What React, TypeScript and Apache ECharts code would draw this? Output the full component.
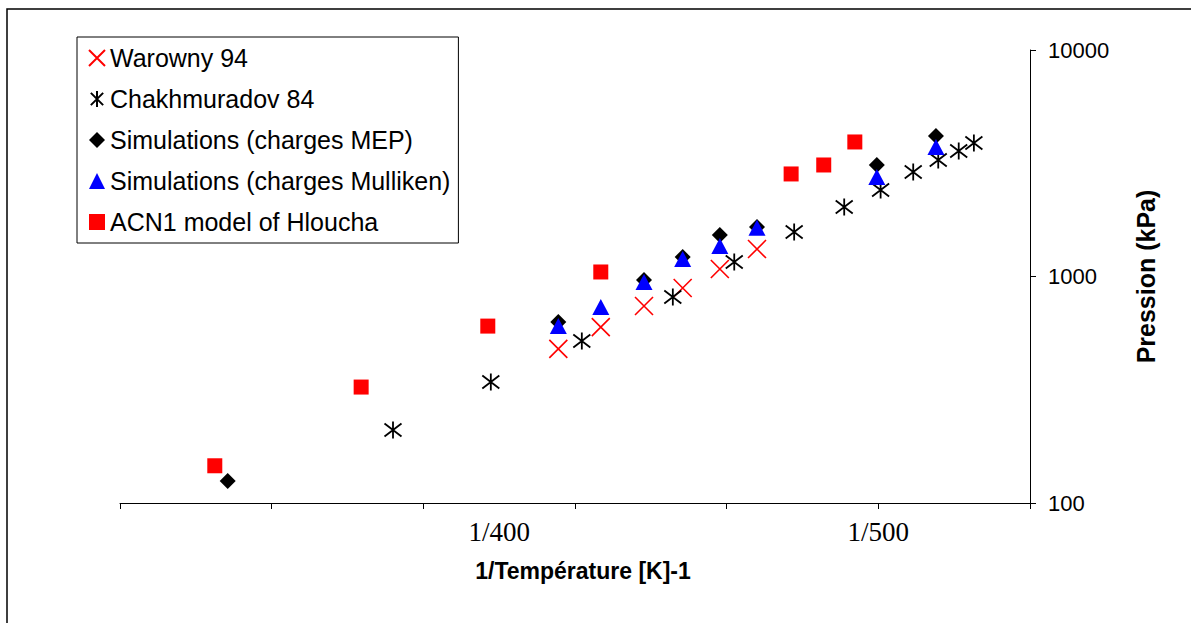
import React, { useEffect, useRef } from "react";
import * as echarts from "echarts";

// 1/T values (K^-1) and pressures (kPa)
const warownyX = [0.002422, 0.002366, 0.002309, 0.002258, 0.002209, 0.00216];
const warownyY = [479, 598, 741, 890, 1079, 1322];

const chakhX = [0.00264, 0.002511, 0.002391, 0.002271, 0.00219, 0.002111, 0.002045, 0.001997, 0.001954, 0.001921, 0.001894, 0.001874];
const chakhY = [210, 342, 519, 812, 1159, 1572, 2027, 2410, 2894, 3268, 3583, 3885];

const mepX = [0.002858, 0.002422, 0.002309, 0.002258, 0.002209, 0.00216, 0.002002, 0.001924];
const mepY = [125, 630, 965, 1219, 1526, 1654, 3107, 4171];

const mullikenX = [0.002422, 0.002366, 0.002309, 0.002258, 0.002209, 0.00216, 0.002002, 0.001924];
const mullikenY = [604, 733, 945, 1195, 1364, 1640, 2750, 3732];

const acn1X = [0.002875, 0.002682, 0.002515, 0.002366, 0.002115, 0.002072, 0.002031];
const acn1Y = [146, 325, 604, 1047, 2836, 3107, 3926];

const seriesNames = [
  "Warowny 94",
  "Chakhmuradov 84",
  "Simulations (charges MEP)",
  "Simulations (charges Mulliken)",
  "ACN1 model of Hloucha",
];

const xTickValues = [0.0018, 0.002, 0.0022, 0.0024, 0.0026, 0.0028, 0.003];
const xLabelValues = [0.0025, 0.002];
const xLabelTexts = ["1/400", "1/500"];

const zip = (xs: number[], ys: number[]) => xs.map((x, i) => [x, ys[i]]);

const X_PATH = "path://M0,0L10,10M10,0L0,10";
const STAR_PATH = "path://M0,0L10,10M10,0L0,10M5,-1.5L5,11.5";

export default function App() {
  const ref = useRef<HTMLDivElement>(null);
  useEffect(() => {
    if (!ref.current) return;
    const chart = echarts.init(ref.current, null, { renderer: "svg" });
    const sans = "Liberation Sans, Arial, sans-serif";
    const serif = "Liberation Serif, Times New Roman, serif";
    chart.setOption({
      animation: false,
      backgroundColor: "#fff",
      textStyle: { fontFamily: sans, color: "#000" },
      graphic: [
        {
          type: "rect",
          shape: { x: 7, y: 9, width: 1200, height: 640 },
          style: { fill: "none", stroke: "#000", lineWidth: 1.5 },
          z: 0,
          silent: true,
        },
      ],
      grid: { left: 120, right: 161, top: 50, bottom: 120 },
      legend: {
        orient: "vertical",
        left: 77,
        top: 37,
        selectedMode: false,
        backgroundColor: "#fff",
        borderColor: "#000",
        borderWidth: 1,
        padding: [8, 8, 8, 11],
        itemGap: 15,
        itemWidth: 16,
        itemHeight: 16,
        textStyle: { fontSize: 25, fontFamily: sans, color: "#000", lineHeight: 26 },
        data: seriesNames,
      },
      xAxis: {
        type: "value",
        inverse: true,
        min: 0.0018,
        max: 0.003,
        interval: 0.0002,
        splitLine: { show: false },
        axisLine: { onZero: false, lineStyle: { color: "#000", width: 1 } },
        axisTick: { show: true, length: 6, lineStyle: { color: "#000" }, customValues: xTickValues },
        axisLabel: {
          customValues: xLabelValues,
          formatter: (v: number) => {
            const i = xLabelValues.findIndex((t) => Math.abs(t - v) < 1e-9);
            return i >= 0 ? xLabelTexts[i] : "";
          },
          fontFamily: serif,
          fontSize: 27,
          color: "#000",
          margin: 15,
        },
        name: "1/Température [K]-1",
        nameLocation: "middle",
        nameGap: 56,
        nameTextStyle: { fontSize: 23, fontWeight: "bold", fontFamily: sans, color: "#000", padding: [0, 0, 0, 16] },
      },
      yAxis: {
        type: "log",
        logBase: 10,
        min: 100,
        max: 10000,
        position: "right",
        splitLine: { show: false },
        axisLine: { show: true, lineStyle: { color: "#000", width: 1 } },
        axisTick: { show: true, length: 6, lineStyle: { color: "#000" } },
        minorTick: { show: false },
        axisLabel: {
          fontSize: 22,
          fontFamily: sans,
          color: "#000",
          margin: 18,
          formatter: (v: number) => String(Math.round(v)),
        },
        name: "Pression (kPa)",
        nameLocation: "middle",
        nameRotate: 90,
        nameGap: 103,
        nameTextStyle: { fontSize: 25, fontWeight: "bold", fontFamily: sans, color: "#000" },
      },
      series: [
        {
          name: seriesNames[0],
          type: "scatter",
          symbol: X_PATH,
          symbolSize: 18,
          itemStyle: { color: "rgba(0,0,0,0)", borderColor: "#ff0000", borderWidth: 1.6, opacity: 1 },
          data: zip(warownyX, warownyY),
        },
        {
          name: seriesNames[1],
          type: "scatter",
          symbol: STAR_PATH,
          symbolSize: 17,
          itemStyle: { color: "rgba(0,0,0,0)", borderColor: "#000", borderWidth: 1.8, opacity: 1 },
          data: zip(chakhX, chakhY),
        },
        {
          name: seriesNames[2],
          type: "scatter",
          symbol: "diamond",
          symbolSize: 16,
          itemStyle: { color: "#000", opacity: 1 },
          data: zip(mepX, mepY),
        },
        {
          name: seriesNames[3],
          type: "scatter",
          symbol: "triangle",
          symbolSize: [17, 16],
          itemStyle: { color: "#0000ff", opacity: 1 },
          data: zip(mullikenX, mullikenY),
        },
        {
          name: seriesNames[4],
          type: "scatter",
          symbol: "rect",
          symbolSize: 15,
          itemStyle: { color: "#ff0000", opacity: 1 },
          data: zip(acn1X, acn1Y),
        },
      ],
    });
    return () => chart.dispose();
  }, []);
  return (
    <div
      ref={ref}
      style={{ position: "fixed", left: 0, top: 0, width: 1191, height: 623, background: "#fff" }}
    />
  );
}
